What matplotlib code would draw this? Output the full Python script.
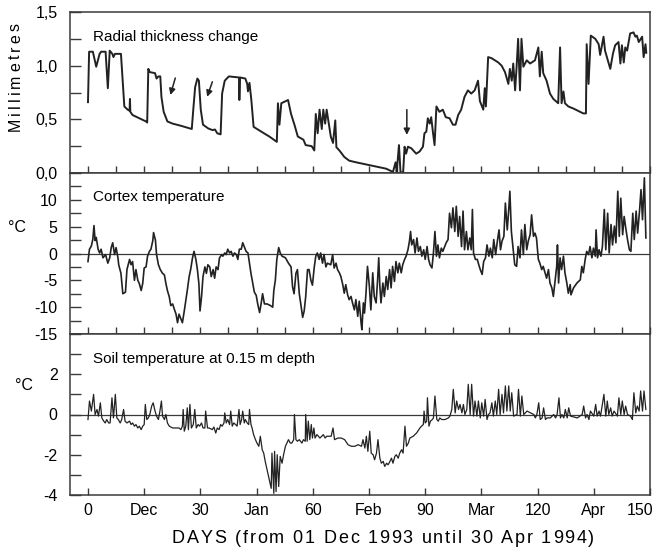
import numpy as np
import matplotlib
matplotlib.use("Agg")
import matplotlib.pyplot as plt
from matplotlib.ticker import MultipleLocator, FuncFormatter
from matplotlib.transforms import ScaledTranslation
from matplotlib import font_manager
from matplotlib.ft2font import FT2Font

plt.rcParams['font.family'] = ['Liberation Sans', 'DejaVu Sans']
plt.rcParams['axes.unicode_minus'] = False

# ---------------------------------------------------
# data (day, value)
# ---------------------------------------------------
thick_day = [
    0, 0.3, 1.3, 2.2, 3.1, 3.5, 4.7, 5.3, 5.8, 6.5,
    6.8, 7.2, 8.8, 9.3, 9.7, 10.6, 11.1, 11.2, 11.3, 11.9,
    13.7, 15.5, 15.8, 16.1, 16.5, 17.9, 18.3, 18.8, 19.3, 19.6,
    20.2, 21.2, 22.6, 24.8, 27.7, 28.1, 28.6, 29.2, 29.6, 30.1,
    30.7, 32.1, 33.2, 33.9, 34.5, 35.4, 35.8, 36.5, 37.6, 40.3,
    40.4, 40.6, 42.0, 42.5, 42.7, 43.1, 43.6, 44.2, 46.5, 48.4,
    50.4, 50.7, 51.1, 51.6, 53.4, 54.2, 55.1, 56.0, 57.5, 58.1,
    59.7, 60.4, 60.8, 61.3, 61.8, 62.4, 62.8, 63.3, 63.7, 64.8,
    65.4, 66.0, 66.3, 67.1, 68.4, 69.7, 71.5, 74.2, 76.9, 79.6,
    81.4, 82.1, 82.4, 83.0, 83.4, 84.1, 84.5, 84.9, 85.4, 86.3,
    87.6, 88.5, 89.4, 89.8, 90.3, 90.7, 91.2, 91.6, 92.1, 92.5,
    93.0, 93.8, 94.7, 95.5, 96.5, 97.4, 98.1, 98.8, 99.6, 100.5,
    101.4, 102.3, 103.2, 104.1, 104.6, 105.5, 105.9, 106.2, 106.8, 107.7,
    108.6, 109.5, 110.4, 111.3, 112.2, 112.6, 113.1, 113.5, 114.0, 114.4,
    114.8, 115.3, 115.7, 116.2, 117.1, 118.0, 119.3, 120.2, 120.6, 121.1,
    121.5, 122.4, 123.3, 124.2, 125.5, 126.0, 126.4, 126.9, 127.3, 128.2,
    129.6, 132.2, 132.9, 133.1, 133.6, 134.2, 135.4, 136.3, 136.7, 137.6,
    138.0, 138.5, 139.4, 140.1, 140.7, 141.6, 142.1, 142.5, 143.0, 143.4,
    143.9, 144.7, 145.6, 146.1, 146.5, 147.0, 147.9, 148.3, 148.8, 149.0,
]
thick_mm = [
    0.66, 1.13, 1.13, 0.99, 1.11, 1.13, 1.13, 0.79, 1.14, 1.11,
    1.08, 1.11, 1.11, 0.83, 0.62, 0.59, 0.58, 0.69, 0.57, 0.54,
    0.51, 0.48, 0.47, 0.97, 0.94, 0.93, 0.88, 0.90, 0.90, 0.71,
    0.57, 0.48, 0.46, 0.44, 0.41, 0.59, 0.80, 0.88, 0.86, 0.59,
    0.45, 0.415, 0.40, 0.405, 0.37, 0.36, 0.74, 0.86, 0.90, 0.89,
    0.68, 0.89, 0.88, 0.83, 0.76, 0.84, 0.68, 0.43, 0.38, 0.34,
    0.29, 0.65, 0.45, 0.65, 0.68, 0.55, 0.45, 0.34, 0.31, 0.26,
    0.25, 0.21, 0.55, 0.37, 0.59, 0.41, 0.59, 0.46, 0.59, 0.34,
    0.28, 0.49, 0.24, 0.21, 0.15, 0.115, 0.10, 0.08, 0.06, 0.04,
    0.01, 0.10, 0.01, 0.26, 0.01, 0.0, 0.245, 0.18, 0.245, 0.23,
    0.18, 0.20, 0.245, 0.37, 0.385, 0.51, 0.46, 0.52, 0.37, 0.26,
    0.62, 0.57, 0.59, 0.52, 0.51, 0.45, 0.45, 0.54, 0.59, 0.71,
    0.77, 0.74, 0.77, 0.86, 0.67, 0.59, 0.79, 0.62, 1.08, 1.07,
    1.05, 1.03, 1.00, 0.94, 0.83, 0.97, 0.86, 1.02, 0.77, 0.99,
    1.25, 0.77, 1.25, 0.99, 1.05, 1.02, 1.05, 1.17, 0.90, 1.13,
    0.93, 0.86, 0.74, 0.69, 0.65, 1.17, 0.65, 0.76, 0.65, 0.62,
    0.60, 0.555, 0.555, 1.20, 0.83, 1.28, 1.25, 1.20, 1.10, 1.27,
    1.14, 1.08, 0.97, 1.11, 1.19, 1.22, 1.02, 1.19, 1.03, 1.17,
    1.14, 1.30, 1.31, 1.27, 1.28, 1.22, 1.27, 1.08, 1.20, 1.12,
]

cortex_day = [
    0, 0.4, 0.9, 1.3, 1.6, 1.9, 2.2, 2.7, 3.1, 3.5,
    4.0, 4.7, 5.3, 5.8, 6.2, 6.6, 7.1, 7.5, 8.0, 8.2,
    8.8, 9.3, 10.0, 10.4, 11.1, 11.5, 11.9, 12.4, 12.8, 13.3,
    13.7, 14.2, 14.6, 15.0, 15.5, 15.9, 16.4, 16.8, 17.3, 17.5,
    18.0, 18.3, 18.8, 19.3, 19.9, 20.4, 20.8, 21.2, 21.7, 22.1,
    22.6, 23.0, 23.5, 23.9, 24.3, 24.8, 25.2, 25.7, 26.1, 26.5,
    27.0, 27.4, 27.9, 28.3, 28.8, 29.2, 29.6, 29.9, 30.3, 30.7,
    31.2, 31.6, 32.0, 32.5, 32.9, 33.4, 33.8, 34.2, 34.7, 35.1,
    35.7, 36.0, 36.5, 36.9, 37.3, 37.8, 38.2, 38.7, 39.1, 39.6,
    40.0, 40.4, 40.9, 41.3, 41.8, 42.2, 42.7, 43.1, 43.5, 44.0,
    44.4, 44.9, 45.3, 45.8, 46.2, 46.6, 47.1, 47.8, 48.7, 49.3,
    49.6, 50.0, 50.4, 50.9, 51.3, 51.8, 52.7, 53.5, 54.2, 54.6,
    55.0, 55.5, 55.9, 56.4, 56.8, 57.3, 57.7, 58.1, 58.6, 59.0,
    59.5, 59.9, 60.4, 60.8, 61.2, 61.7, 62.1, 62.6, 63.0, 63.5,
    63.9, 64.8, 65.3, 65.7, 66.2, 66.6, 67.1, 67.5, 68.0, 68.4,
    68.8, 69.3, 69.7, 70.2, 70.6, 71.1, 71.5, 72.0, 72.4, 72.9,
    73.1, 73.5, 73.8, 74.2, 74.6, 75.1, 75.5, 76.0, 76.4, 76.9,
    77.3, 77.6, 77.9, 78.2, 78.7, 79.1, 79.6, 80.0, 80.5, 80.9,
    81.3, 81.8, 82.2, 82.7, 83.1, 83.6, 84.0, 84.5, 84.9, 85.4,
    85.8, 86.1, 86.4, 86.9, 87.3, 87.8, 88.2, 88.7, 89.1, 89.6,
    90.0, 90.5, 90.9, 91.3, 91.8, 92.2, 92.6, 93.0, 93.4, 93.8,
    94.3, 94.7, 95.2, 95.6, 96.1, 96.5, 97.0, 97.4, 97.9, 98.3,
    98.8, 99.2, 99.7, 100.1, 100.5, 101.0, 101.4, 101.9, 102.3, 102.6,
    102.9, 103.4, 103.9, 104.3, 104.7, 105.2, 105.6, 106.1, 106.5, 107.0,
    107.4, 107.9, 108.3, 108.8, 109.2, 109.7, 110.1, 110.5, 111.0, 111.4,
    111.9, 112.3, 112.6, 113.0, 113.5, 113.9, 114.4, 114.8, 115.3, 115.7,
    116.2, 116.6, 117.1, 117.5, 118.0, 118.4, 118.9, 119.3, 119.7, 120.2,
    120.6, 121.1, 121.5, 122.0, 122.4, 122.9, 123.3, 123.8, 124.2, 124.7,
    125.1, 125.3, 125.6, 126.0, 126.4, 126.9, 127.3, 127.8, 128.2, 128.7,
    128.9, 129.6, 130.5, 131.4, 131.8, 132.2, 132.7, 133.1, 133.6, 134.0,
    134.5, 134.9, 135.4, 135.6, 136.0, 136.4, 136.9, 137.3, 137.8, 138.2,
    138.7, 139.1, 139.6, 140.0, 140.5, 140.9, 141.4, 141.8, 142.2, 142.7,
    143.1, 143.6, 144.0, 144.5, 144.9, 145.4, 145.8, 146.3, 146.7, 147.2,
    147.6, 148.0, 148.5, 148.9,
]
cortex_temp = [
    -1.5, 0.8, 1.4, 2.7, 5.2, 2.4, 3.0, 0.8, 0.1, 0.8,
    -0.8, -0.2, -1.8, -0.8, 1.1, 2.0, -0.2, 1.1, -0.8, -2.1,
    -3.7, -7.5, -7.2, -3.0, -1.1, -2.1, -1.5, -5.0, -3.0, -5.0,
    -5.6, -6.9, -5.6, -2.7, -2.5, -0.5, 0.4, 0.8, 2.4, 3.9,
    2.5, -0.2, -2.1, -3.0, -3.7, -4.0, -5.6, -6.9, -8.1, -9.7,
    -9.4, -10.3, -11.3, -12.9, -11.3, -12.2, -12.9, -10.7, -8.8, -6.9,
    -4.3, -3.0, -0.8, 0.4, -1.1, -3.0, -5.6, -10.7, -8.1, -4.3,
    -2.5, -3.7, -2.1, -2.5, -4.3, -3.0, -4.6, -2.5, -3.0, -0.8,
    -0.2, -0.5, 0.1, -0.2, 0.8, 0.1, 0.4, -0.5, 0.1, -0.2,
    -1.1, 0.8, 0.8, 2.0, 1.1, 0.4, 0.1, -1.8, -3.7, -5.6,
    -7.2, -7.8, -9.4, -11.0, -9.4, -7.5, -9.4, -9.4, -9.7, -10.0,
    -6.9, -5.0, -1.1, 1.1, 0.1, -0.5, -0.8, -1.8, -2.5, -6.2,
    -7.5, -3.7, -3.0, -7.5, -9.4, -11.9, -10.7, -8.1, -3.0, -3.0,
    -5.0, -5.9, -2.5, -0.5, 0.1, -1.1, 0.1, -1.8, -0.2, -2.5,
    -1.8, -2.1, -0.2, -2.7, -1.8, -3.0, -3.6, -4.3, -5.8, -7.4,
    -5.8, -7.7, -8.6, -8.0, -9.2, -10.5, -8.6, -11.7, -8.9, -13.0,
    -14.2, -9.2, -11.1, -7.4, -2.4, -6.1, -10.5, -3.6, -8.0, -9.2,
    -4.9, -0.8, -6.1, -9.2, -5.5, -8.0, -4.3, -6.7, -3.0, -6.4,
    -2.4, -5.2, -1.5, -3.6, -1.8, -3.6, -2.1, -1.1, -0.5, 0.7,
    2.3, 4.1, 1.6, 2.6, 0.1, 2.9, 0.4, 1.3, -0.5, 0.7,
    -1.1, 1.3, -1.1, -2.1, -2.7, 0.1, 4.1, -0.5, 1.6, -0.8,
    1.0, 0.4, 1.3, 2.0, 2.6, 7.5, 4.8, 8.5, 4.1, 8.8,
    3.2, 6.9, 1.3, 7.9, 0.7, 4.1, 0.7, 2.9, 0.7, 8.2,
    0.1, -1.1, -1.1, -2.1, -3.0, -3.9, -1.5, -0.8, 1.6, -0.5,
    1.0, -0.8, 2.6, -0.2, 2.0, 4.4, 0.7, 2.3, 3.2, 9.4,
    4.4, 8.2, 11.6, 4.1, 0.7, -2.1, -2.4, 1.3, -0.8, 4.4,
    -0.2, 5.4, 0.7, 2.3, 3.5, 7.2, 3.2, 3.8, 2.9, -1.1,
    -1.8, -3.0, -2.4, -3.6, -4.6, -3.0, -5.5, -6.4, -8.0, -4.9,
    -2.4, 1.6, -5.5, -0.8, -3.0, -0.5, -3.6, -5.5, -7.4, -5.8,
    -7.7, -6.4, -5.5, -4.9, -2.4, -3.6, -1.1, 0.4, -0.2, 1.3,
    -0.8, 1.0, -0.5, 4.4, -0.8, 0.7, -0.5, 1.3, 8.2, 0.7,
    7.5, 0.1, 5.4, 1.6, 5.1, 2.0, 11.6, 3.2, 10.3, 3.5,
    6.9, 4.4, 2.6, 0.7, 0.4, 7.5, 2.6, 7.9, 3.8, 7.9,
    11.9, 6.3, 14.1, 2.9,
]

soil_day = [
    0.0, 0.4, 0.9, 1.5, 1.9, 2.4, 2.8, 3.3, 3.7, 4.2,
    4.6, 5.0, 5.5, 5.9, 6.4, 6.8, 7.3, 7.7, 8.1, 8.6,
    9.0, 9.5, 9.9, 10.4, 11.1, 11.5, 11.9, 12.4, 12.8, 13.3,
    13.7, 14.2, 14.6, 15.0, 15.3, 15.7, 16.1, 16.5, 17.0, 17.4,
    17.9, 18.3, 18.8, 19.2, 19.6, 19.9, 20.4, 20.8, 21.2, 21.7,
    22.6, 23.5, 24.3, 24.8, 25.2, 25.4, 25.7, 26.1, 26.5, 26.8,
    27.2, 27.6, 28.1, 28.5, 28.9, 29.4, 29.8, 30.3, 30.7, 31.2,
    31.4, 31.9, 32.3, 33.2, 33.6, 34.1, 34.5, 35.0, 35.4, 35.8,
    36.3, 36.5, 36.9, 37.3, 37.8, 38.1, 38.5, 38.9, 39.4, 39.8,
    40.3, 40.6, 41.0, 41.3, 41.7, 42.0, 42.5, 42.9, 43.1, 43.5,
    43.8, 44.2, 44.7, 45.1, 45.6, 46.0, 46.5, 46.9, 47.3, 47.8,
    48.2, 48.7, 48.9, 49.1, 49.6, 49.8, 50.2, 50.5, 50.9, 51.3,
    51.8, 52.2, 52.7, 53.1, 53.5, 54.0, 54.4, 54.9, 55.1, 55.5,
    55.9, 56.4, 57.1, 57.5, 58.0, 58.1, 58.5, 58.8, 59.2, 59.6,
    59.9, 60.3, 60.6, 61.1, 61.5, 61.9, 62.4, 62.8, 63.3, 63.7,
    64.9, 65.4, 65.8, 66.7, 67.6, 68.5, 69.4, 70.3, 71.2, 72.1,
    73.0, 73.4, 73.9, 74.3, 74.7, 75.2, 75.6, 76.1, 76.5, 77.0,
    77.4, 77.9, 78.3, 78.8, 79.2, 79.7, 80.1, 80.6, 81.0, 81.4,
    81.9, 82.3, 82.8, 83.2, 83.7, 84.1, 84.6, 85.0, 85.5, 85.9,
    86.8, 87.7, 88.6, 89.0, 89.5, 89.7, 90.0, 90.4, 90.6, 91.0,
    91.4, 91.9, 92.2, 92.6, 93.1, 93.5, 93.9, 94.4, 95.3, 96.2,
    96.6, 97.1, 97.5, 98.0, 98.4, 98.9, 99.3, 99.8, 100.2, 100.6,
    101.1, 101.5, 102.0, 102.4, 102.9, 103.3, 103.8, 104.2, 104.7, 105.1,
    105.6, 106.0, 106.5, 106.9, 107.3, 107.8, 108.2, 108.7, 109.1, 109.6,
    110.0, 110.5, 110.9, 111.4, 111.8, 112.3, 112.7, 113.1, 113.6, 114.5,
    114.9, 115.4, 115.8, 116.3, 117.2, 118.1, 119.0, 119.4, 119.8, 120.3,
    120.7, 121.2, 121.6, 122.1, 122.5, 123.4, 124.3, 124.8, 125.2, 125.7,
    126.1, 126.5, 127.0, 127.4, 127.9, 128.3, 128.8, 130.6, 131.9, 132.3,
    132.8, 133.2, 133.7, 134.1, 135.0, 135.5, 135.9, 136.4, 136.8, 137.7,
    138.2, 138.6, 139.0, 139.5, 139.9, 140.4, 141.3, 141.7, 142.2, 142.6,
    143.1, 143.5, 144.0, 144.8, 145.3, 145.7, 146.2, 146.6, 147.1, 147.5,
    148.0, 148.4, 148.9,
]
soil_temp = [
    -0.25, 0.67, 0.17, 1.0, 0.0, 0.25, -0.08, 0.58, -0.17, -0.33,
    -0.42, -0.25, -0.42, -0.42, 0.83, -0.17, 1.0, -0.17, -0.25, -0.42,
    -0.25, 0.25, -0.33, -0.42, -0.33, -0.5, -0.42, -0.58, -0.5, -0.67,
    -0.58, -0.75, -0.58, -0.5, 0.5, -0.25, -0.17, 0.0, 0.42, 0.58,
    0.17, -0.08, -0.25, 0.17, 0.67, -0.08, -0.25, 0.0, -0.42, -0.58,
    -0.67, -0.67, -0.67, -0.75, -0.58, 0.25, -0.83, -0.58, 0.33, -0.75,
    0.5, -0.67, -0.5, 0.25, -0.67, -0.5, -0.58, -0.42, -0.67, -0.67,
    0.17, -0.67, -0.67, -0.75, -0.62, -0.92, -0.67, -0.75, -0.5, -0.58,
    -0.42, 0.08, -0.42, -0.25, -0.5, 0.17, -0.58, -0.42, -0.5, -0.58,
    0.25, -0.5, -0.25, 0.17, -0.42, -0.25, -0.42, -0.5, 0.25, -0.5,
    -0.67, -1.0, -1.25, -1.42, -1.58, -1.08, -1.75, -1.92, -2.33, -2.75,
    -3.08, -3.5, -3.67, -1.92, -3.92, -1.83, -3.83, -2.0, -3.58, -2.08,
    -2.42, -2.0, -1.58, -1.42, -1.25, -1.42, -1.42, -1.25, 0.0, -1.25,
    -1.33, -1.25, -1.42, -1.25, -1.33, 0.0, -1.33, -0.33, -1.25, -0.5,
    -1.17, -0.67, -1.17, -1.0, -1.08, -1.17, -1.08, -1.0, -1.17, -1.08,
    -1.08, -0.67, -1.25, -1.17, -1.17, -1.25, -1.5, -1.58, -1.58, -1.5,
    -1.58, -1.25, -1.67, -1.08, -1.83, -0.83, -1.92, -2.0, -2.25, -1.92,
    -1.25, -2.17, -2.42, -2.33, -2.58, -2.42, -2.5, -2.33, -2.17, -2.42,
    -2.08, -2.0, -2.17, -1.92, -1.75, -1.92, -0.58, -1.58, -1.42, -1.17,
    -1.08, -0.92, -0.67, -0.58, -0.5, 0.17, -0.42, -0.33, 0.83, -0.58,
    -0.33, -0.25, -0.17, 0.92, -0.25, -0.33, -0.17, -0.25, -0.25, -0.17,
    -0.08, 0.25, 1.25, 0.08, 0.67, 0.25, 0.5, 0.08, 0.5, 0.0,
    0.25, 1.5, 0.0, 1.5, -0.08, 0.67, -0.08, 0.67, -0.17, 0.58,
    -0.08, 0.75, -0.25, 0.0, 0.08, 0.58, -0.08, 0.67, 0.0, 1.25,
    0.0, 1.0, 0.08, 1.42, 0.17, 1.42, 0.17, 1.08, -0.08, 0.0,
    1.25, -0.08, 0.92, 0.0, 0.17, 0.08, 0.0, -0.17, 0.0, 0.58,
    -0.25, -0.17, 0.33, -0.25, -0.17, -0.17, 0.0, -0.17, 0.0, 0.83,
    -0.17, 0.0, -0.17, 0.25, -0.17, 0.33, -0.08, -0.17, 0.0, 0.42,
    -0.17, 0.0, -0.25, 0.17, -0.08, 0.5, -0.08, 0.17, -0.08, 1.0,
    -0.08, 0.67, 0.0, 0.33, -0.08, 0.17, -0.08, 0.83, 0.0, 0.67,
    0.0, 0.42, 0.0, -0.08, -0.25, 1.08, 0.08, 0.42, 0.17, 1.17,
    0.17, 1.17, 0.25,
]

# arrows in the top panel: (tail day, tail mm, head day, head mm)
arrows = [(23.3, 0.885, 22.0, 0.727), (33.2, 0.85, 31.8, 0.71), (85.1, 0.59, 85.1, 0.355)]

tick_days = list(range(0, 151, 15))
tick_labels = ["0", "Dec", "30", "Jan", "60", "Feb", "90", "Mar", "120", "Apr", "150"]

# ---------------------------------------------------
# layout
# ---------------------------------------------------
W, H = 657, 548
fig = plt.figure(figsize=(W / 100, H / 100), dpi=100)

LINE = "#222222"
SPINE = "#3a3a3a"


def px_axes(left, top, right, bottom):
    return fig.add_axes([left / W, 1 - bottom / H, (right - left) / W, (bottom - top) / H])


ax1 = px_axes(70, 12, 650, 173)
ax2 = px_axes(70, 173, 650, 334)
ax3 = px_axes(70, 334, 650, 495)

ax1.plot(thick_day, thick_mm, color=LINE, lw=1.4)
ax2.plot(cortex_day, cortex_temp, color=LINE, lw=1.2)
ax3.plot(soil_day, soil_temp, color=LINE, lw=0.9)
ax2.axhline(0, color=SPINE, lw=0.9, zorder=1)
ax3.axhline(0, color=SPINE, lw=0.9, zorder=1)

ax1.set_ylim(0, 1.5)
ax2.set_ylim(-15, 15)
ax3.set_ylim(-4, 4)

ax1.set_yticks([0, 0.5, 1.0, 1.5])
ax1.yaxis.set_minor_locator(MultipleLocator(0.25))
ax1.yaxis.set_major_formatter(FuncFormatter(lambda v, p: f"{v:.1f}".replace(".", ",")))
ax2.set_yticks([-15, -10, -5, 0, 5, 10])
ax2.yaxis.set_minor_locator(MultipleLocator(2.5))
ax3.set_yticks([-4, -2, 0, 2])
ax3.yaxis.set_minor_locator(MultipleLocator(1))

for ax in (ax1, ax2, ax3):
    ax.set_xlim(-4.8, 150)
    for s in ax.spines.values():
        s.set_color(SPINE)
        s.set_linewidth(1.1)
    ax.tick_params(axis="y", which="both", direction="in", length=8, width=1,
                   color=SPINE, labelsize=11.5, pad=9)
    ax.tick_params(axis="x", which="both", direction="in", length=5, width=1, color=SPINE)

for ax in (ax1, ax2):
    ax.set_xticks(tick_days)
    ax.xaxis.set_minor_locator(MultipleLocator(7.5))
    ax.tick_params(axis="x", labelbottom=False)

ax3.set_xticks(tick_days)
ax3.set_xticklabels(tick_labels)
ax3.tick_params(axis="x", labelsize=11.5, pad=6)
last = ax3.get_xticklabels()[-1]
last.set_transform(last.get_transform() + ScaledTranslation(-7 / 72, 0, fig.dpi_scale_trans))

# panel titles
ax1.text(0.04, 0.845, "Radial thickness change", transform=ax1.transAxes, fontsize=11, va="center")
ax2.text(0.04, 0.848, "Cortex temperature", transform=ax2.transAxes, fontsize=11, va="center")
ax3.text(0.04, 0.845, "Soil temperature at 0.15 m depth", transform=ax3.transAxes,
         fontsize=11, va="center")

for x0, y0, x1, y1 in arrows:
    ax1.annotate("", xy=(x1, y1), xytext=(x0, y0),
                 arrowprops=dict(arrowstyle="-|>", color=LINE, lw=1.1,
                                 mutation_scale=9, shrinkA=0, shrinkB=0))

fig.text(17 / W, 1 - 228 / H, "°C", fontsize=11.5, ha="center", va="center")
fig.text(24 / W, 1 - 386 / H, "°C", fontsize=11.5, ha="center", va="center")


# letter-spaced labels (drawn char by char)
FONT_PATH = font_manager.findfont(font_manager.FontProperties(family="Liberation Sans"))


def advances(s, size):
    ft = FT2Font(FONT_PATH)
    ft.set_size(size, 100)
    return [ft.load_char(ord(c)).linearHoriAdvance / 65536 for c in s]


def spaced_label(s, size, extra, center, base, vertical=False):
    adv = advances(s, size)
    total = sum(adv) + extra * (len(s) - 1)
    pos = center - total / 2 if not vertical else center + total / 2
    for c, a in zip(s, adv):
        if vertical:
            fig.text(base / W, 1 - pos / H, c, fontsize=size, rotation=90,
                     rotation_mode="anchor", ha="left", va="baseline")
            pos -= a + extra
        else:
            fig.text(pos / W, 1 - base / H, c, fontsize=size, ha="left", va="baseline")
            pos += a + extra


spaced_label("DAYS (from 01 Dec 1993 until 30 Apr 1994)", 13, 1.8, 383, 543)
spaced_label("Millimetres", 11.5, 3.2, 77, 20, vertical=True)

fig.savefig("out.png", dpi=100)
